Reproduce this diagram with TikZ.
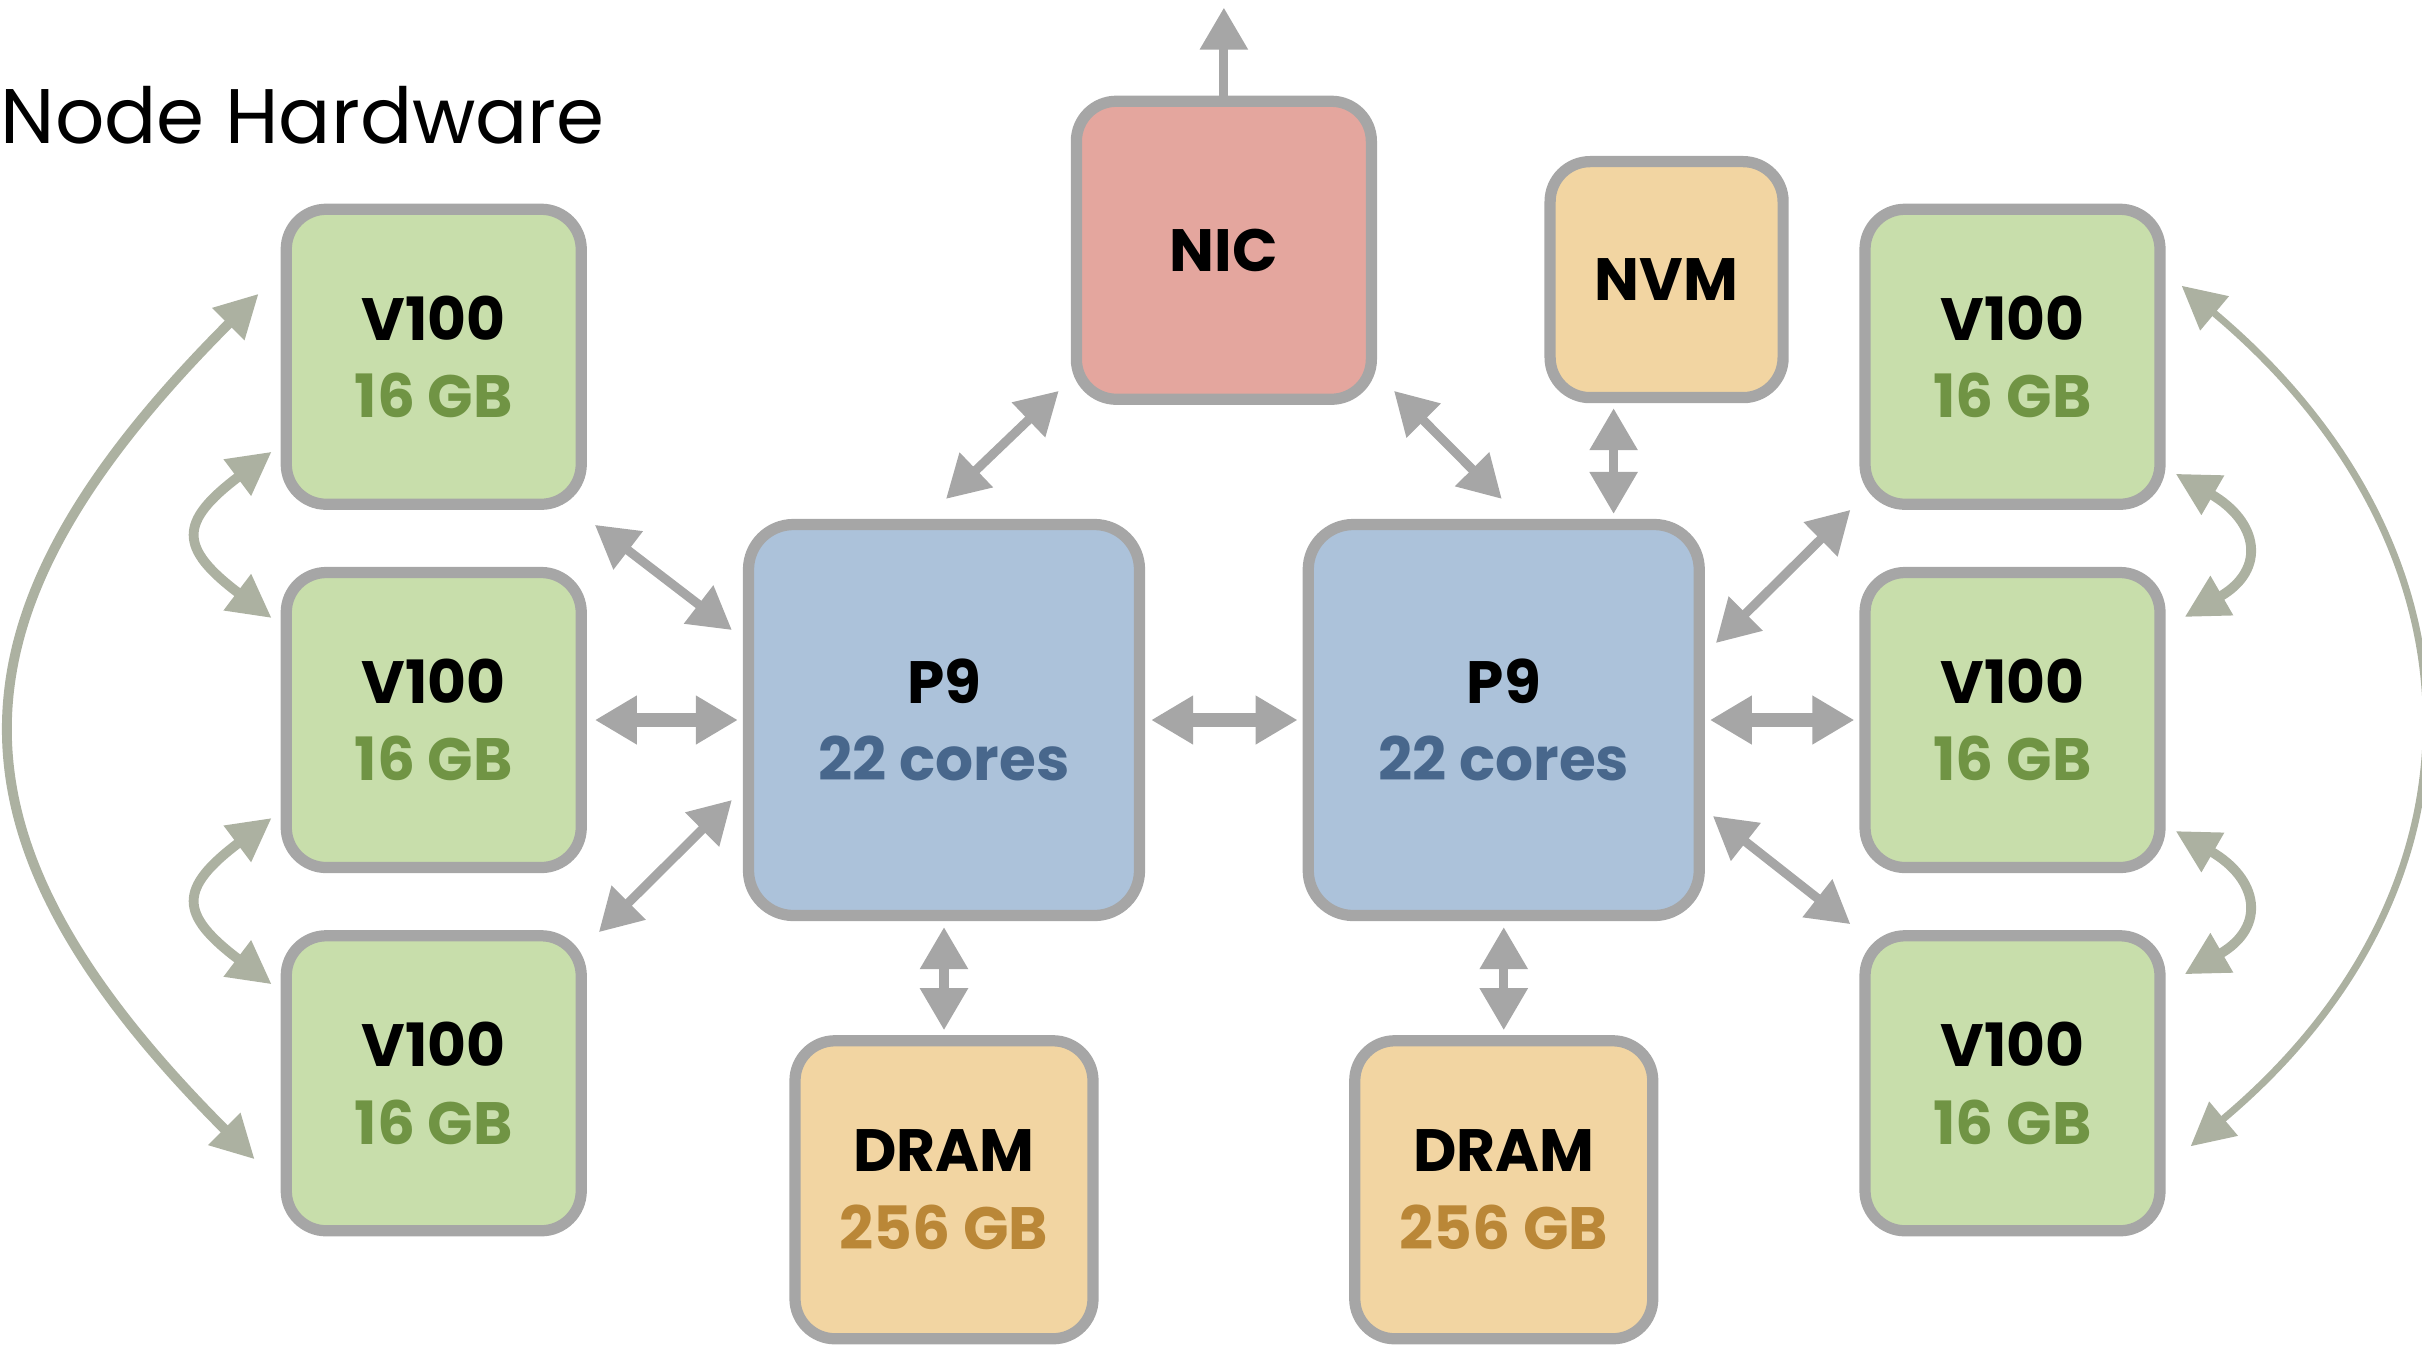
\documentclass[tikz,border=0pt]{standalone}
\usepackage{fontspec}
\setmainfont{Poppins}
\usepackage{tikz}
\usetikzlibrary{positioning, arrows.meta, calc}
\definecolor{gpugreen}{RGB}{200, 222, 171}
\definecolor{gputext}{RGB}{112, 148, 68}
\definecolor{cpublue}{RGB}{172, 194, 218}
\definecolor{cputext}{RGB}{72, 103, 140}
\definecolor{nicred}{RGB}{228, 166, 158}
\definecolor{memorange}{RGB}{242, 213, 162}
\definecolor{memtext}{RGB}{186, 135, 55}
\definecolor{boxgray}{RGB}{166, 166, 166}
\definecolor{nvlgray}{RGB}{172, 177, 161}

\begin{document}
\begin{tikzpicture}[
    every node/.style={align=center, font=\bfseries\fontsize{17}{22}\selectfont},
    hw/.style={draw=boxgray, line width=3.2pt, rounded corners=0.4cm},
    gpu/.style={hw, fill=gpugreen, minimum width=2.95cm, minimum height=2.95cm},
    cpu/.style={hw, fill=cpublue, minimum width=3.91cm, minimum height=3.91cm, rounded corners=0.45cm},
    mem/.style={hw, fill=memorange, minimum width=2.98cm, minimum height=2.98cm},
    link/.style={draw=boxgray, line width=2.6pt, >={Triangle[length=0.42cm, width=0.46cm]}, <->},
    hlink/.style={link, line width=3.8pt},
    nvlink/.style={draw=nvlgray, line width=2.8pt, >={Triangle[length=0.43cm, width=0.43cm]}, <->}]
    \useasboundingbox (0,0) rectangle (24.22,-13.5);

    \node[anchor=base west, inner sep=0pt, font=\fontsize{22}{26}\selectfont] (title) at (0,-1.436) {Node Hardware};

    % processors and memory
    \node[cpu] (lp9) at (9.44,-7.2) {P9\\\textcolor{cputext}{22 cores}};
    \node[cpu, right=1.575cm of lp9] (rp9) {P9\\\textcolor{cputext}{22 cores}};
    \node[mem, below=1.14cm of lp9] (ldram) {DRAM\\\textcolor{memtext}{256 GB}};
    \node[mem, below=1.14cm of rp9] (rdram) {DRAM\\\textcolor{memtext}{256 GB}};
    \coordinate (cpumid) at ($(lp9.north)!0.5!(rp9.north)$);
    \node[hw, fill=nicred, minimum width=2.95cm, minimum height=2.98cm, above=1.14cm of cpumid] (nic) {NIC};
    \node[mem, minimum width=2.33cm, minimum height=2.36cm] (nvm) at (16.666,-2.796) {NVM};

    % gpus
    \node[gpu, left=1.56cm of lp9] (lv2) {V100\\\textcolor{gputext}{16 GB}};
    \node[gpu, above=0.57cm of lv2] (lv1) {V100\\\textcolor{gputext}{16 GB}};
    \node[gpu, below=0.57cm of lv2] (lv3) {V100\\\textcolor{gputext}{16 GB}};
    \node[gpu, right=1.545cm of rp9] (rv2) {V100\\\textcolor{gputext}{16 GB}};
    \node[gpu, above=0.57cm of rv2] (rv1) {V100\\\textcolor{gputext}{16 GB}};
    \node[gpu, below=0.57cm of rv2] (rv3) {V100\\\textcolor{gputext}{16 GB}};

    % links
    \draw[link] ([shift={(0.08,-0.15)}]lv1.south east) -- ([shift={(-0.11,0.9)}]lp9.west);
    \draw[hlink] ([xshift=0.08cm]lv2.east) -- ([xshift=-0.05cm]lp9.west);
    \draw[link] ([shift={(0.12,-0.02)}]lv3.north east) -- ([shift={(-0.11,-0.8)}]lp9.west);
    \draw[hlink] ([xshift=0.06cm]lp9.east) -- ([xshift=-0.05cm]rp9.west);
    \draw[link] ([shift={(0.02,0.2)}]lp9.north) -- ([shift={(-0.12,0.14)}]nic.south west);
    \draw[link] ([shift={(0.17,0.14)}]nic.south east) -- ([shift={(-0.02,0.2)}]rp9.north);
    \draw[link] ([shift={(-0.53,-0.05)}]nvm.south) -- ($(nvm.south |- rp9.north)+(-0.53,0.05)$);
    \draw[link] ([shift={(0.11,0.77)}]rp9.east) -- ([shift={(-0.09,0)}]rv1.south west);
    \draw[hlink] ([xshift=0.05cm]rp9.east) -- ([xshift=-0.05cm]rv2.west);
    \draw[link] ([shift={(0.08,-0.96)}]rp9.east) -- ([shift={(-0.09,0.06)}]rv3.north west);
    \draw[link] ([yshift=-0.06cm]lp9.south) -- ([yshift=0.05cm]ldram.north);
    \draw[link] ([yshift=-0.06cm]rp9.south) -- ([yshift=0.05cm]rdram.north);
    \coordinate (uplink) at ([yshift=0.88cm]nic.north);
    \draw[link, ->] (nic.north) -- (uplink);

    % nvlink arcs
    \draw[nvlink] ([shift={(-0.22,0.63)}]lv1.west) to[out=225, in=135, looseness=1.35] ([shift={(-0.26,-0.76)}]lv3.west);
    \draw[nvlink] ([shift={(-0.09,-0.95)}]lv1.west) to[out=217, in=143, looseness=1.8] ([shift={(-0.09,1.02)}]lv2.west);
    \draw[nvlink] ([shift={(-0.09,-0.98)}]lv2.west) to[out=217, in=143, looseness=1.8] ([shift={(-0.09,0.99)}]lv3.west);
    \draw[nvlink, line width=2pt] ([shift={(0.16,0.71)}]rv1.east) to[out=-40, in=40, looseness=1.2] ([shift={(0.25,-0.63)}]rv3.east);
    \draw[nvlink] ([shift={(0.1,-1.17)}]rv1.east) to[out=-30, in=30, looseness=1.7] ([shift={(0.19,1.03)}]rv2.east);
    \draw[nvlink] ([shift={(0.1,-1.11)}]rv2.east) to[out=-30, in=30, looseness=1.7] ([shift={(0.19,1.09)}]rv3.east);
  \end{tikzpicture}
\end{document}
